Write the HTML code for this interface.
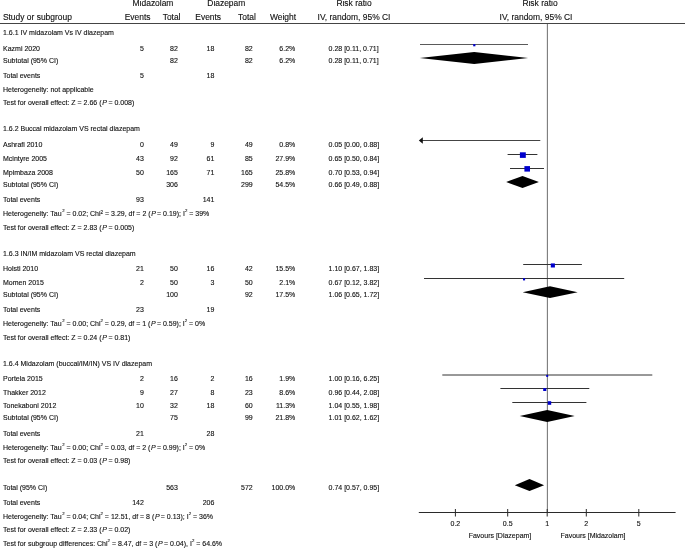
<!DOCTYPE html>
<html><head><meta charset="utf-8"><style>
html,body{margin:0;padding:0;background:#fff;}
svg{display:block;will-change:transform;}
text{font-family:"Liberation Sans",sans-serif;fill:#111;stroke:#111;stroke-width:0.12px;}
</style></head><body>
<svg width="685" height="548" viewBox="0 0 685 548">
<rect width="685" height="548" fill="#fff"/>
<line x1="0" y1="23.5" x2="685" y2="23.5" stroke="#444" stroke-width="1"/>
<line x1="547.4" y1="24" x2="547.4" y2="513" stroke="#7a7a7a" stroke-width="1.1"/>
<line x1="418.8" y1="512.5" x2="675.6" y2="512.5" stroke="#2a2a2a" stroke-width="1"/>
<line x1="455.4" y1="509" x2="455.4" y2="516.5" stroke="#2a2a2a" stroke-width="1"/>
<line x1="507.7" y1="509" x2="507.7" y2="516.5" stroke="#2a2a2a" stroke-width="1"/>
<line x1="547.2" y1="509" x2="547.2" y2="516.5" stroke="#2a2a2a" stroke-width="1"/>
<line x1="586.3" y1="509" x2="586.3" y2="516.5" stroke="#2a2a2a" stroke-width="1"/>
<line x1="638.8" y1="509" x2="638.8" y2="516.5" stroke="#2a2a2a" stroke-width="1"/>
<line x1="420.0" y1="44.5" x2="528.0" y2="44.5" stroke="#5a5a5a" stroke-width="1.15"/>
<rect x="473.2" y="44.1" width="2.20" height="2.20" fill="#0000cc"/>
<polygon points="419.70000000000005,58.0 474.2,52.1 528.1,58.0 474.2,63.9" fill="#000"/>
<line x1="422.0" y1="140.5" x2="540.3" y2="140.5" stroke="#444" stroke-width="1"/>
<polygon points="418.8,140.5 422.8,137.3 422.8,143.7" fill="#111"/>
<line x1="507.6" y1="154.5" x2="537.4" y2="154.5" stroke="#333" stroke-width="1"/>
<rect x="519.9" y="152.3" width="5.90" height="5.60" fill="#0000cc"/>
<line x1="510.0" y1="168.5" x2="544.0" y2="168.5" stroke="#333" stroke-width="1"/>
<rect x="524.4" y="166.1" width="5.60" height="5.50" fill="#0000cc"/>
<polygon points="506.20000000000005,182.0 522.5,176.0 538.9,182.0 522.5,188.0" fill="#000"/>
<line x1="523.2" y1="264.5" x2="581.9" y2="264.5" stroke="#333" stroke-width="1"/>
<rect x="550.8" y="263.4" width="4.10" height="4.10" fill="#0000cc"/>
<line x1="424.0" y1="278.5" x2="624.2" y2="278.5" stroke="#333" stroke-width="1"/>
<rect x="523.0" y="278.2" width="2.10" height="2.20" fill="#0000cc"/>
<polygon points="522.6,292.2 550.0,286.3 577.6999999999999,292.2 550.0,298.1" fill="#000"/>
<line x1="442.3" y1="375.0" x2="652.3" y2="375.0" stroke="#333" stroke-width="1"/>
<rect x="546.2" y="374.9" width="2.00" height="2.00" fill="#0000cc"/>
<line x1="500.4" y1="388.5" x2="589.3" y2="388.5" stroke="#333" stroke-width="1"/>
<rect x="543.2" y="388.1" width="3.10" height="2.90" fill="#0000cc"/>
<line x1="512.3" y1="402.5" x2="586.4" y2="402.5" stroke="#333" stroke-width="1"/>
<rect x="547.8" y="401.2" width="3.40" height="3.60" fill="#0000cc"/>
<polygon points="519.7,416.0 547.2,410.0 574.6999999999999,416.0 547.2,422.0" fill="#000"/>
<polygon points="514.8000000000001,485.2 529.5,479.1 544.1,485.2 529.5,491.1" fill="#000"/>
<text x="153.00" y="6.00" font-size="8.45" text-anchor="middle">Midazolam</text>
<text x="226.30" y="6.00" font-size="8.45" text-anchor="middle">Diazepam</text>
<text x="354.00" y="6.00" font-size="8.45" text-anchor="middle">Risk ratio</text>
<text x="540.00" y="6.00" font-size="8.45" text-anchor="middle">Risk ratio</text>
<text x="2.90" y="20.00" font-size="8.45" text-anchor="start">Study or subgroup</text>
<text x="137.60" y="20.00" font-size="8.45" text-anchor="middle">Events</text>
<text x="171.60" y="20.00" font-size="8.45" text-anchor="middle">Total</text>
<text x="208.20" y="20.00" font-size="8.45" text-anchor="middle">Events</text>
<text x="247.00" y="20.00" font-size="8.45" text-anchor="middle">Total</text>
<text x="283.00" y="20.00" font-size="8.45" text-anchor="middle">Weight</text>
<text x="354.00" y="20.00" font-size="8.45" text-anchor="middle">IV, random, 95% CI</text>
<text x="536.00" y="20.00" font-size="8.45" text-anchor="middle">IV, random, 95% CI</text>
<text x="3.00" y="35.10" font-size="7.0" text-anchor="start">1.6.1 IV midazolam Vs IV diazepam</text>
<text x="3.00" y="50.90" font-size="7.0" text-anchor="start">Kazmi 2020</text>
<text x="143.90" y="50.90" font-size="7.0" text-anchor="end">5</text>
<text x="177.90" y="50.90" font-size="7.0" text-anchor="end">82</text>
<text x="214.40" y="50.90" font-size="7.0" text-anchor="end">18</text>
<text x="252.70" y="50.90" font-size="7.0" text-anchor="end">82</text>
<text x="295.30" y="50.90" font-size="7.0" text-anchor="end">6.2%</text>
<text x="328.60" y="50.90" font-size="7.0" text-anchor="start">0.28 [0.11, 0.71]</text>
<text x="3.00" y="62.70" font-size="7.0" text-anchor="start">Subtotal (95% CI)</text>
<text x="177.90" y="62.70" font-size="7.0" text-anchor="end">82</text>
<text x="252.70" y="62.70" font-size="7.0" text-anchor="end">82</text>
<text x="295.30" y="62.70" font-size="7.0" text-anchor="end">6.2%</text>
<text x="328.60" y="62.70" font-size="7.0" text-anchor="start">0.28 [0.11, 0.71]</text>
<text x="3.00" y="78.20" font-size="7.0" text-anchor="start">Total events</text>
<text x="143.90" y="78.20" font-size="7.0" text-anchor="end">5</text>
<text x="214.40" y="78.20" font-size="7.0" text-anchor="end">18</text>
<text x="3.00" y="91.70" font-size="7.0" text-anchor="start">Heterogeneity: not applicable</text>
<text x="3.00" y="105.30" font-size="7.0" text-anchor="start">Test for overall effect: Z = 2.66 (<tspan font-style="italic" dx="0.7">P</tspan><tspan dx="-0.4"> = 0.008)</tspan></text>
<text x="3.00" y="131.40" font-size="7.0" text-anchor="start">1.6.2 Buccal midazolam VS rectal diazepam</text>
<text x="3.00" y="147.00" font-size="7.0" text-anchor="start">Ashrafi 2010</text>
<text x="143.90" y="147.00" font-size="7.0" text-anchor="end">0</text>
<text x="177.90" y="147.00" font-size="7.0" text-anchor="end">49</text>
<text x="214.40" y="147.00" font-size="7.0" text-anchor="end">9</text>
<text x="252.70" y="147.00" font-size="7.0" text-anchor="end">49</text>
<text x="295.30" y="147.00" font-size="7.0" text-anchor="end">0.8%</text>
<text x="328.60" y="147.00" font-size="7.0" text-anchor="start">0.05 [0.00, 0.88]</text>
<text x="3.00" y="160.70" font-size="7.0" text-anchor="start">Mcintyre 2005</text>
<text x="143.90" y="160.70" font-size="7.0" text-anchor="end">43</text>
<text x="177.90" y="160.70" font-size="7.0" text-anchor="end">92</text>
<text x="214.40" y="160.70" font-size="7.0" text-anchor="end">61</text>
<text x="252.70" y="160.70" font-size="7.0" text-anchor="end">85</text>
<text x="295.30" y="160.70" font-size="7.0" text-anchor="end">27.9%</text>
<text x="328.60" y="160.70" font-size="7.0" text-anchor="start">0.65 [0.50, 0.84]</text>
<text x="3.00" y="174.50" font-size="7.0" text-anchor="start">Mpimbaza 2008</text>
<text x="143.90" y="174.50" font-size="7.0" text-anchor="end">50</text>
<text x="177.90" y="174.50" font-size="7.0" text-anchor="end">165</text>
<text x="214.40" y="174.50" font-size="7.0" text-anchor="end">71</text>
<text x="252.70" y="174.50" font-size="7.0" text-anchor="end">165</text>
<text x="295.30" y="174.50" font-size="7.0" text-anchor="end">25.8%</text>
<text x="328.60" y="174.50" font-size="7.0" text-anchor="start">0.70 [0.53, 0.94]</text>
<text x="3.00" y="186.50" font-size="7.0" text-anchor="start">Subtotal (95% CI)</text>
<text x="177.90" y="186.50" font-size="7.0" text-anchor="end">306</text>
<text x="252.70" y="186.50" font-size="7.0" text-anchor="end">299</text>
<text x="295.30" y="186.50" font-size="7.0" text-anchor="end">54.5%</text>
<text x="328.60" y="186.50" font-size="7.0" text-anchor="start">0.66 [0.49, 0.88]</text>
<text x="3.00" y="202.00" font-size="7.0" text-anchor="start">Total events</text>
<text x="143.90" y="202.00" font-size="7.0" text-anchor="end">93</text>
<text x="214.40" y="202.00" font-size="7.0" text-anchor="end">141</text>
<text x="3.00" y="215.80" font-size="7.0" text-anchor="start">Heterogeneity: Tau<tspan font-size="4.3" dx="0.5" baseline-shift="4.1">2</tspan> = 0.02; Chi<tspan font-size="4.6" baseline-shift="2.5">2</tspan> = 3.29, df = 2 (<tspan font-style="italic" dx="0.7">P</tspan><tspan dx="-0.8"> = 0.19)</tspan>; I<tspan font-size="4.3" baseline-shift="4.1">2</tspan> = 39%</text>
<text x="3.00" y="229.70" font-size="7.0" text-anchor="start">Test for overall effect: Z = 2.83 (<tspan font-style="italic" dx="0.7">P</tspan><tspan dx="-0.4"> = 0.005)</tspan></text>
<text x="3.00" y="255.70" font-size="7.0" text-anchor="start">1.6.3 IN/IM midazolam VS rectal diazepam</text>
<text x="3.00" y="271.10" font-size="7.0" text-anchor="start">Holsti 2010</text>
<text x="143.90" y="271.10" font-size="7.0" text-anchor="end">21</text>
<text x="177.90" y="271.10" font-size="7.0" text-anchor="end">50</text>
<text x="214.40" y="271.10" font-size="7.0" text-anchor="end">16</text>
<text x="252.70" y="271.10" font-size="7.0" text-anchor="end">42</text>
<text x="295.30" y="271.10" font-size="7.0" text-anchor="end">15.5%</text>
<text x="328.60" y="271.10" font-size="7.0" text-anchor="start">1.10 [0.67, 1.83]</text>
<text x="3.00" y="284.80" font-size="7.0" text-anchor="start">Momen 2015</text>
<text x="143.90" y="284.80" font-size="7.0" text-anchor="end">2</text>
<text x="177.90" y="284.80" font-size="7.0" text-anchor="end">50</text>
<text x="214.40" y="284.80" font-size="7.0" text-anchor="end">3</text>
<text x="252.70" y="284.80" font-size="7.0" text-anchor="end">50</text>
<text x="295.30" y="284.80" font-size="7.0" text-anchor="end">2.1%</text>
<text x="328.60" y="284.80" font-size="7.0" text-anchor="start">0.67 [0.12, 3.82]</text>
<text x="3.00" y="296.80" font-size="7.0" text-anchor="start">Subtotal (95% CI)</text>
<text x="177.90" y="296.80" font-size="7.0" text-anchor="end">100</text>
<text x="252.70" y="296.80" font-size="7.0" text-anchor="end">92</text>
<text x="295.30" y="296.80" font-size="7.0" text-anchor="end">17.5%</text>
<text x="328.60" y="296.80" font-size="7.0" text-anchor="start">1.06 [0.65, 1.72]</text>
<text x="3.00" y="312.10" font-size="7.0" text-anchor="start">Total events</text>
<text x="143.90" y="312.10" font-size="7.0" text-anchor="end">23</text>
<text x="214.40" y="312.10" font-size="7.0" text-anchor="end">19</text>
<text x="3.00" y="326.00" font-size="7.0" text-anchor="start">Heterogeneity: Tau<tspan font-size="4.3" dx="0.5" baseline-shift="4.1">2</tspan> = 0.00; Chi<tspan font-size="4.3" baseline-shift="4.1">2</tspan> = 0.29, df = 1 (<tspan font-style="italic" dx="0.7">P</tspan><tspan dx="-0.8"> = 0.59)</tspan>; I<tspan font-size="4.3" baseline-shift="4.1">2</tspan> = 0%</text>
<text x="3.00" y="339.80" font-size="7.0" text-anchor="start">Test for overall effect: Z = 0.24 (<tspan font-style="italic" dx="0.7">P</tspan><tspan dx="-0.4"> = 0.81)</tspan></text>
<text x="3.00" y="365.80" font-size="7.0" text-anchor="start">1.6.4 Midazolam (buccal/IM/IN) VS IV diazepam</text>
<text x="3.00" y="381.40" font-size="7.0" text-anchor="start">Portela 2015</text>
<text x="143.90" y="381.40" font-size="7.0" text-anchor="end">2</text>
<text x="177.90" y="381.40" font-size="7.0" text-anchor="end">16</text>
<text x="214.40" y="381.40" font-size="7.0" text-anchor="end">2</text>
<text x="252.70" y="381.40" font-size="7.0" text-anchor="end">16</text>
<text x="295.30" y="381.40" font-size="7.0" text-anchor="end">1.9%</text>
<text x="328.60" y="381.40" font-size="7.0" text-anchor="start">1.00 [0.16, 6.25]</text>
<text x="3.00" y="394.80" font-size="7.0" text-anchor="start">Thakker 2012</text>
<text x="143.90" y="394.80" font-size="7.0" text-anchor="end">9</text>
<text x="177.90" y="394.80" font-size="7.0" text-anchor="end">27</text>
<text x="214.40" y="394.80" font-size="7.0" text-anchor="end">8</text>
<text x="252.70" y="394.80" font-size="7.0" text-anchor="end">23</text>
<text x="295.30" y="394.80" font-size="7.0" text-anchor="end">8.6%</text>
<text x="328.60" y="394.80" font-size="7.0" text-anchor="start">0.96 [0.44, 2.08]</text>
<text x="3.00" y="408.30" font-size="7.0" text-anchor="start">Tonekaboni 2012</text>
<text x="143.90" y="408.30" font-size="7.0" text-anchor="end">10</text>
<text x="177.90" y="408.30" font-size="7.0" text-anchor="end">32</text>
<text x="214.40" y="408.30" font-size="7.0" text-anchor="end">18</text>
<text x="252.70" y="408.30" font-size="7.0" text-anchor="end">60</text>
<text x="295.30" y="408.30" font-size="7.0" text-anchor="end">11.3%</text>
<text x="328.60" y="408.30" font-size="7.0" text-anchor="start">1.04 [0.55, 1.98]</text>
<text x="3.00" y="420.40" font-size="7.0" text-anchor="start">Subtotal (95% CI)</text>
<text x="177.90" y="420.40" font-size="7.0" text-anchor="end">75</text>
<text x="252.70" y="420.40" font-size="7.0" text-anchor="end">99</text>
<text x="295.30" y="420.40" font-size="7.0" text-anchor="end">21.8%</text>
<text x="328.60" y="420.40" font-size="7.0" text-anchor="start">1.01 [0.62, 1.62]</text>
<text x="3.00" y="436.10" font-size="7.0" text-anchor="start">Total events</text>
<text x="143.90" y="436.10" font-size="7.0" text-anchor="end">21</text>
<text x="214.40" y="436.10" font-size="7.0" text-anchor="end">28</text>
<text x="3.00" y="449.60" font-size="7.0" text-anchor="start">Heterogeneity: Tau<tspan font-size="4.3" dx="0.5" baseline-shift="4.1">2</tspan> = 0.00; Chi<tspan font-size="4.3" baseline-shift="4.1">2</tspan> = 0.03, df = 2 (<tspan font-style="italic" dx="0.7">P</tspan><tspan dx="-0.8"> = 0.99)</tspan>; I<tspan font-size="4.3" baseline-shift="4.1">2</tspan> = 0%</text>
<text x="3.00" y="463.10" font-size="7.0" text-anchor="start">Test for overall effect: Z = 0.03 (<tspan font-style="italic" dx="0.7">P</tspan><tspan dx="-0.4"> = 0.98)</tspan></text>
<text x="3.00" y="489.90" font-size="7.0" text-anchor="start">Total (95% CI)</text>
<text x="177.90" y="489.90" font-size="7.0" text-anchor="end">563</text>
<text x="252.70" y="489.90" font-size="7.0" text-anchor="end">572</text>
<text x="295.30" y="489.90" font-size="7.0" text-anchor="end">100.0%</text>
<text x="328.60" y="489.90" font-size="7.0" text-anchor="start">0.74 [0.57, 0.95]</text>
<text x="3.00" y="505.10" font-size="7.0" text-anchor="start">Total events</text>
<text x="143.90" y="505.10" font-size="7.0" text-anchor="end">142</text>
<text x="214.40" y="505.10" font-size="7.0" text-anchor="end">206</text>
<text x="3.00" y="518.70" font-size="7.0" text-anchor="start">Heterogeneity: Tau<tspan font-size="4.3" dx="0.5" baseline-shift="4.1">2</tspan> = 0.04; Chi<tspan font-size="4.3" baseline-shift="4.1">2</tspan> = 12.51, df = 8 (<tspan font-style="italic" dx="0.7">P</tspan><tspan dx="-0.8"> = 0.13)</tspan>; I<tspan font-size="4.3" baseline-shift="4.1">2</tspan> = 36%</text>
<text x="3.00" y="532.20" font-size="7.0" text-anchor="start">Test for overall effect: Z = 2.33 (<tspan font-style="italic" dx="0.7">P</tspan><tspan dx="-0.4"> = 0.02)</tspan></text>
<text x="3.00" y="546.10" font-size="7.0" text-anchor="start">Test for subgroup differences: Chi<tspan font-size="4.3" baseline-shift="4.1">2</tspan> = 8.47, df = 3 (<tspan font-style="italic" dx="0.7">P</tspan><tspan dx="-0.7"> = 0.04)</tspan>, I<tspan font-size="4.3" baseline-shift="4.1">2</tspan> = 64.6%</text>
<text x="455.40" y="526.20" font-size="7.0" text-anchor="middle">0.2</text>
<text x="507.70" y="526.20" font-size="7.0" text-anchor="middle">0.5</text>
<text x="547.20" y="526.20" font-size="7.0" text-anchor="middle">1</text>
<text x="586.30" y="526.20" font-size="7.0" text-anchor="middle">2</text>
<text x="638.80" y="526.20" font-size="7.0" text-anchor="middle">5</text>
<text x="500.00" y="538.00" font-size="7.0" text-anchor="middle">Favours [Diazepam]</text>
<text x="593.00" y="538.00" font-size="7.0" text-anchor="middle">Favours [Midazolam]</text>
</svg></body></html>
